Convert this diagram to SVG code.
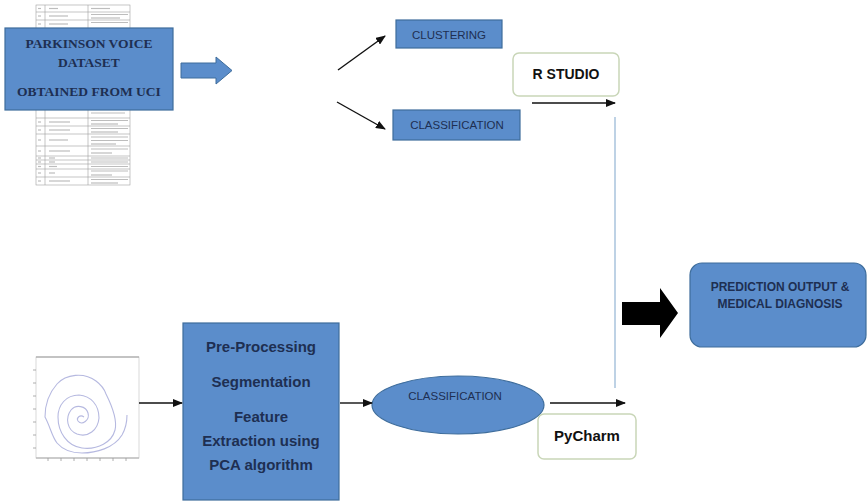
<svg xmlns="http://www.w3.org/2000/svg" width="868" height="501" viewBox="0 0 868 501">
<defs>
<style>
.box{fill:#5b8dcb;stroke:#3e6d9c;stroke-width:1.2}
.white{fill:#fff;stroke:#c9d6b8;stroke-width:1.5}
.t{font-family:"Liberation Sans",Arial,sans-serif;fill:#1e2f52;text-anchor:middle}
.tb{font-family:"Liberation Sans",Arial,sans-serif;font-weight:bold;fill:#1e2f52;text-anchor:middle}
.ts{font-family:"Liberation Serif","Times New Roman",serif;font-weight:bold;fill:#1e2f52;text-anchor:middle}
.k{font-family:"Liberation Sans",Arial,sans-serif;font-weight:bold;fill:#111;text-anchor:middle}
.ln{stroke:#111;stroke-width:1.4;fill:none}
.tl{stroke:#a0a0a0;stroke-width:0.6;fill:none}
.tx{stroke:#bdbdbd;stroke-width:1.2}
</style>
<marker id="ah" markerWidth="10" markerHeight="8" refX="9" refY="4" orient="auto" markerUnits="userSpaceOnUse">
<path d="M0,0 L10,4 L0,8 Z" fill="#111"/>
</marker>
</defs>
<rect width="868" height="501" fill="#fff"/>

<g id="table-image">
<rect x="36" y="5" width="94" height="180" fill="#fafafa" class="tl"/>
<line x1="45" y1="5" x2="45" y2="185" class="tl"/>
<line x1="88" y1="5" x2="88" y2="185" class="tl"/>
<line x1="36" y1="12" x2="130" y2="12" class="tl"/>
<line x1="36" y1="20" x2="130" y2="20" class="tl"/>
<line x1="36" y1="118" x2="130" y2="118" class="tl"/>
<line x1="36" y1="126" x2="130" y2="126" class="tl"/>
<line x1="36" y1="134" x2="130" y2="134" class="tl"/>
<line x1="36" y1="146" x2="130" y2="146" class="tl"/>
<line x1="36" y1="156" x2="130" y2="156" class="tl"/>
<line x1="36" y1="160" x2="130" y2="160" class="tl"/>
<line x1="36" y1="164" x2="130" y2="164" class="tl"/>
<line x1="36" y1="169" x2="130" y2="169" class="tl"/>
<line x1="36" y1="177" x2="130" y2="177" class="tl"/>
<g class="tx">
<line x1="38" y1="8.5" x2="41" y2="8.5"/><line x1="49" y1="8.5" x2="58" y2="8.5"/><line x1="91" y1="8.5" x2="110" y2="8.5"/>
<line x1="38" y1="16" x2="41" y2="16"/><line x1="49" y1="16" x2="68" y2="16"/><line x1="91" y1="14.5" x2="128" y2="14.5"/><line x1="91" y1="18" x2="120" y2="18"/>
<line x1="38" y1="24" x2="41" y2="24"/><line x1="49" y1="24" x2="68" y2="24"/><line x1="91" y1="22.5" x2="128" y2="22.5"/>
<line x1="91" y1="113" x2="125" y2="113"/>
<line x1="38" y1="122" x2="41" y2="122"/><line x1="49" y1="122" x2="70" y2="122"/><line x1="91" y1="120.5" x2="128" y2="120.5"/><line x1="91" y1="124" x2="118" y2="124"/>
<line x1="38" y1="130" x2="41" y2="130"/><line x1="49" y1="130" x2="70" y2="130"/><line x1="91" y1="128.5" x2="128" y2="128.5"/><line x1="91" y1="132" x2="118" y2="132"/>
<line x1="38" y1="140" x2="41" y2="140"/><line x1="49" y1="140" x2="68" y2="140"/><line x1="91" y1="137" x2="128" y2="137"/><line x1="91" y1="140.5" x2="128" y2="140.5"/><line x1="91" y1="144" x2="116" y2="144"/>
<line x1="38" y1="151" x2="41" y2="151"/><line x1="49" y1="151" x2="70" y2="151"/><line x1="91" y1="149" x2="128" y2="149"/><line x1="91" y1="153" x2="112" y2="153"/>
<line x1="38" y1="158" x2="41" y2="158"/><line x1="49" y1="158" x2="55" y2="158"/><line x1="91" y1="158" x2="128" y2="158"/>
<line x1="38" y1="162" x2="41" y2="162"/><line x1="49" y1="162" x2="55" y2="162"/><line x1="91" y1="162" x2="128" y2="162"/>
<line x1="38" y1="166.5" x2="41" y2="166.5"/><line x1="49" y1="166.5" x2="57" y2="166.5"/><line x1="91" y1="166.5" x2="128" y2="166.5"/>
<line x1="38" y1="173" x2="41" y2="173"/><line x1="49" y1="173" x2="55" y2="173"/><line x1="91" y1="171" x2="128" y2="171"/><line x1="91" y1="175" x2="112" y2="175"/>
<line x1="38" y1="181" x2="41" y2="181"/><line x1="49" y1="181" x2="70" y2="181"/><line x1="91" y1="179.5" x2="128" y2="179.5"/><line x1="91" y1="183" x2="118" y2="183"/>
</g>
</g>

<g id="dataset">
<rect x="5" y="28" width="168" height="82" class="box"/>
<text x="89" y="48" class="ts" font-size="13.5">PARKINSON VOICE</text>
<text x="89" y="67" class="ts" font-size="13.5">DATASET</text>
<text x="89" y="96" class="ts" font-size="13.5">OBTAINED FROM UCI</text>
</g>

<g id="block-arrow-1">
<path d="M181,63 L216,63 L216,57 L232,70.5 L216,84 L216,78 L181,78 Z" fill="#5b8dcb" stroke="#3e6d9c" stroke-width="1"/>
</g>

<g id="clustering">
<rect x="396" y="20" width="106" height="28" class="box"/>
<text x="449" y="38.5" class="t" font-size="11.5">CLUSTERING</text>
</g>

<g id="classification-r">
<rect x="393" y="110" width="127" height="30" class="box"/>
<text x="457" y="129" class="t" font-size="11.5">CLASSIFICATION</text>
</g>

<g id="rstudio">
<rect x="513" y="53" width="106" height="43" rx="6" class="white"/>
<text x="566" y="79" class="k" font-size="14">R STUDIO</text>
</g>

<g id="spiral-image">
<rect x="36" y="357" width="103" height="101" fill="#fff" stroke="#d0d0d0" stroke-width="0.8"/>
<line x1="36" y1="357" x2="139" y2="357" stroke="#999" stroke-width="1.2"/>
<line x1="36" y1="458" x2="139" y2="458" stroke="#aaa" stroke-width="1"/>
<g stroke="#999" stroke-width="0.8">
<line x1="33" y1="370" x2="36" y2="370"/><line x1="33" y1="383" x2="36" y2="383"/><line x1="33" y1="396" x2="36" y2="396"/><line x1="33" y1="409" x2="36" y2="409"/><line x1="33" y1="422" x2="36" y2="422"/><line x1="33" y1="435" x2="36" y2="435"/><line x1="33" y1="448" x2="36" y2="448"/>
<line x1="48" y1="458" x2="48" y2="461"/><line x1="61" y1="458" x2="61" y2="461"/><line x1="74" y1="458" x2="74" y2="461"/><line x1="87" y1="458" x2="87" y2="461"/><line x1="100" y1="458" x2="100" y2="461"/><line x1="113" y1="458" x2="113" y2="461"/><line x1="126" y1="458" x2="126" y2="461"/>
</g>
<path d="M84,417 C80,414 76,418 78,421 C82,426 90,420 88,413 C86,406 76,404 71,410 C65,418 67,430 77,434 C88,438 98,430 99,418 C99,405 91,396 79,395 C66,395 58,405 58,417 C58,432 67,446 82,448 C98,450 112,442 115,430 C118,418 110,402 106,394 C104,388 100,384 96,381 C84,372 66,374 57,384 C49,393 45,405 45,417 C50,426 52,437 57,443 C63,450 72,453 82,453 C96,453 114,448 122,435 C126,428 127,420 127,415" fill="none" stroke="#b6b9e0" stroke-width="1.1"/>
</g>

<g id="preprocessing">
<rect x="183" y="323" width="156" height="177" class="box"/>
<text x="261" y="352" class="tb" font-size="15">Pre-Processing</text>
<text x="261" y="387" class="tb" font-size="15">Segmentation</text>
<text x="261" y="422" class="tb" font-size="15">Feature</text>
<text x="261" y="446" class="tb" font-size="15">Extraction using</text>
<text x="261" y="470" class="tb" font-size="15">PCA algorithm</text>
</g>

<g id="classification-p">
<ellipse cx="458" cy="405" rx="86" ry="29" class="box"/>
<text x="455" y="400" class="t" font-size="11.5">CLASSIFICATION</text>
</g>

<g id="pycharm">
<rect x="538" y="414" width="98" height="45" rx="6" class="white"/>
<text x="587" y="441" class="k" font-size="15">PyCharm</text>
</g>

<g id="block-arrow-2">
<path d="M622,302 L660,302 L660,288 L678,313 L660,338 L660,325 L622,325 Z" fill="#000"/>
</g>

<g id="prediction">
<rect x="690" y="263" width="176" height="84" rx="12" class="box"/>
<text x="780" y="291" class="tb" font-size="12">PREDICTION OUTPUT &amp;</text>
<text x="780" y="308" class="tb" font-size="12">MEDICAL DIAGNOSIS</text>
</g>

<g id="connectors">
<line x1="338" y1="70" x2="385" y2="36" class="ln" marker-end="url(#ah)"/>
<line x1="337" y1="102" x2="385" y2="129" class="ln" marker-end="url(#ah)"/>
<line x1="532" y1="103" x2="615" y2="103" class="ln" marker-end="url(#ah)"/>
<line x1="615" y1="117" x2="615" y2="388" stroke="#a9c3dc" stroke-width="1.5"/>
<line x1="139" y1="403" x2="182" y2="403" class="ln" marker-end="url(#ah)"/>
<line x1="340" y1="403" x2="372" y2="403" class="ln" marker-end="url(#ah)"/>
<line x1="550" y1="403" x2="625" y2="403" class="ln" marker-end="url(#ah)"/>
</g>
</svg>
